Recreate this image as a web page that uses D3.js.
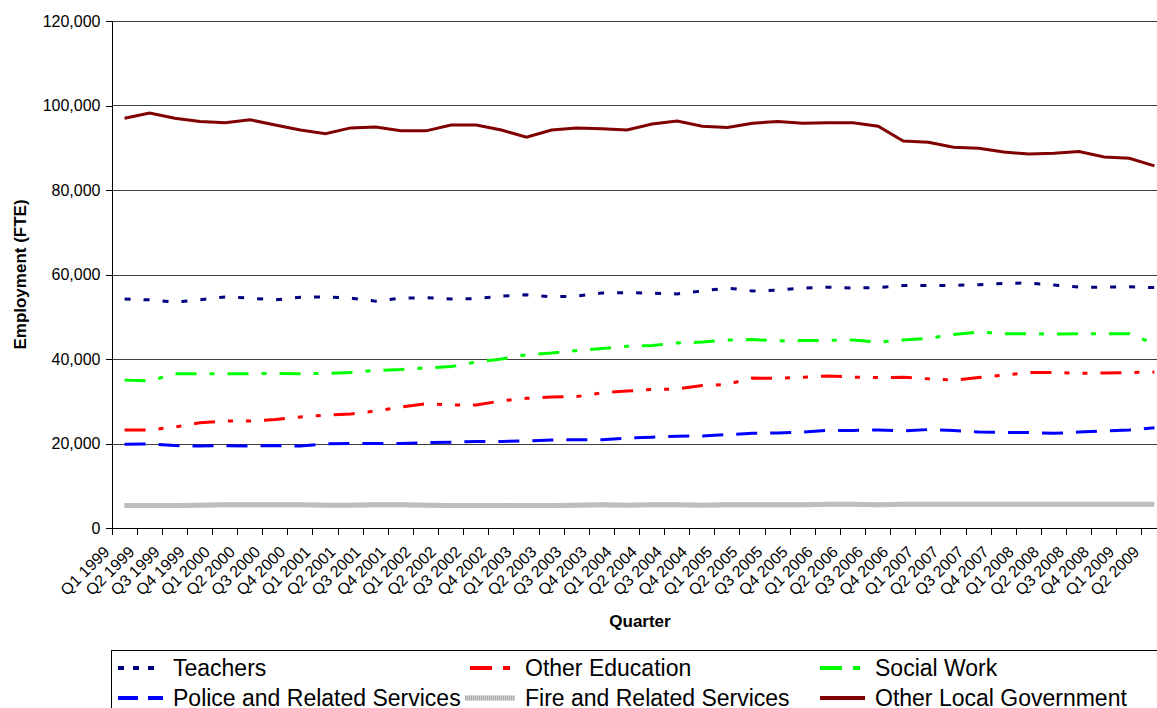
<!DOCTYPE html>
<head>
	<meta charset="utf-8">
	<style>
		body { margin: 0; background: #fff; }
		svg { display: block; font-family: "Liberation Sans", Arial, sans-serif; }
		.axis text { font-size: 16px; fill: #000; }
		.axis path, .axis line { fill: none; stroke: #000; shape-rendering: crispEdges; }
		.grid line { stroke: #404040; shape-rendering: crispEdges; }
		.series { fill: none; stroke-width: 3px; }
		.legend text { font-size: 23px; }
	</style>
	<title>Employment by quarter</title>
	<script src="https://d3js.org/d3.v7.min.js"></script>
</head>
<body>
	<div id="chart"></div>
	<script>
		var quarters = ["Q1 1999", "Q2 1999", "Q3 1999", "Q4 1999", "Q1 2000", "Q2 2000", "Q3 2000", "Q4 2000",
			"Q1 2001", "Q2 2001", "Q3 2001", "Q4 2001", "Q1 2002", "Q2 2002", "Q3 2002", "Q4 2002",
			"Q1 2003", "Q2 2003", "Q3 2003", "Q4 2003", "Q1 2004", "Q2 2004", "Q3 2004", "Q4 2004",
			"Q1 2005", "Q2 2005", "Q3 2005", "Q4 2005", "Q1 2006", "Q2 2006", "Q3 2006", "Q4 2006",
			"Q1 2007", "Q2 2007", "Q3 2007", "Q4 2007", "Q1 2008", "Q2 2008", "Q3 2008", "Q4 2008",
			"Q1 2009", "Q2 2009"];

		var teachers = [54200, 54000, 53500, 54000, 54700, 54400, 54000, 54600, 54700, 54400, 53700, 54400,
			54500, 54200, 54300, 54900, 55200, 54700, 54900, 55600, 55700, 55600, 55400, 56100,
			56800, 56100, 56300, 56800, 57000, 56800, 56900, 57400, 57400, 57400, 57600, 57900,
			58000, 57500, 57000, 57000, 57100, 56900];
		var otherEducation = [23200, 23200, 23900, 24900, 25300, 25300, 25700, 26300, 26700, 27000, 27700, 28600,
			29400, 29100, 29100, 30100, 30700, 31000, 31100, 32000, 32400, 32800, 32900, 33700,
			34000, 35500, 35400, 35700, 36000, 35700, 35600, 35700, 35300, 35000, 35600, 36200,
			36800, 36800, 36600, 36700, 36800, 36900];
		var socialWork = [35000, 34800, 36500, 36500, 36500, 36500, 36600, 36500, 36600, 36800, 37300, 37500,
			37900, 38200, 39300, 40000, 41000, 41400, 42000, 42500, 43000, 43200, 43800, 44000,
			44500, 44600, 44300, 44400, 44400, 44500, 44000, 44500, 44900, 45800, 46400, 46000,
			46000, 45900, 46000, 46000, 46000, 43600];
		var police = [19800, 19900, 19500, 19400, 19500, 19400, 19500, 19400, 19900, 20000, 20000, 20000,
			20200, 20300, 20500, 20500, 20600, 20800, 20900, 20900, 21300, 21500, 21700, 21800,
			22100, 22400, 22500, 22700, 23100, 23100, 23200, 23000, 23300, 23100, 22700, 22600,
			22600, 22400, 22700, 23000, 23200, 23700];
		var fire = [5300, 5300, 5300, 5400, 5500, 5500, 5500, 5500, 5400, 5400, 5500, 5500,
			5400, 5300, 5300, 5300, 5300, 5300, 5400, 5500, 5400, 5500, 5500, 5400,
			5500, 5500, 5500, 5500, 5600, 5600, 5500, 5600, 5600, 5600, 5600, 5600,
			5600, 5600, 5600, 5600, 5600, 5600];
		var otherLocalGov = [97000, 98200, 97000, 96200, 95900, 96600, 95400, 94200, 93300, 94700, 94900, 94000,
			94000, 95400, 95400, 94200, 92500, 94200, 94700, 94500, 94200, 95600, 96300, 95100,
			94800, 95800, 96200, 95800, 95900, 95900, 95100, 91600, 91300, 90100, 89900, 89000,
			88500, 88700, 89100, 87800, 87500, 85700];

		var yTicks = [0, 20000, 40000, 60000, 80000, 100000, 120000];

		var series = [
			{ name: "Teachers", values: teachers, color: "#000080", dash: "6,13", legendDash: "6,9" },
			{ name: "Other Education", values: otherEducation, color: "#ff0000", dash: "21,13,5,13,5,13", legendDash: "22,11,7,11" },
			{ name: "Social Work", values: socialWork, color: "#00ff00", dash: "21,13,5,13", legendDash: "22,11,7,11" },
			{ name: "Police and Related Services", values: police, color: "#0000ff", dash: "21,13", legendDash: "20,10" },
			{ name: "Fire and Related Services", values: fire, color: "#c4c4c4", dash: null, textured: true },
			{ name: "Other Local Government", values: otherLocalGov, color: "#800000", dash: null }
		];

		var width = 1157, height = 708,
			plotLeft = 112, plotTop = 21, plotBottom = 528, plotRight = 1167;

		var svg = d3.select("#chart").append("svg")
			.attr("width", width)
			.attr("height", height);

		var x = d3.scaleBand().domain(quarters).range([plotLeft, plotRight]);
		var y = d3.scaleLinear().domain([0, 120000]).range([plotBottom, plotTop]);

		// gridlines
		svg.append("g")
			.attr("class", "grid")
			.selectAll("line")
			.data(yTicks.slice(1))
			.enter().append("line")
			.attr("x1", plotLeft).attr("x2", plotRight)
			.attr("y1", function (d) { return Math.round(y(d)) + 0.5; })
			.attr("y2", function (d) { return Math.round(y(d)) + 0.5; });

		var line = d3.line()
			.x(function (d, i) { return x(quarters[i]) + x.bandwidth() / 2; })
			.y(function (d) { return y(d); });

		series.forEach(function (s) {
			if (s.textured) {
				svg.append("path").datum(s.values).attr("class", "series")
					.attr("d", line).style("stroke", "#d4d4d4").style("stroke-width", "5px");
				svg.append("path").datum(s.values).attr("class", "series")
					.attr("d", line).style("stroke", "#a8a8a8").style("stroke-width", "5px")
					.style("stroke-dasharray", "1,1");
			} else {
				svg.append("path").datum(s.values).attr("class", "series")
					.attr("d", line).style("stroke", s.color)
					.style("stroke-dasharray", s.dash);
			}
		});

		// axes
		var yAxis = d3.axisLeft(y).tickValues(yTicks).tickSize(6).tickPadding(5)
			.tickFormat(d3.format(","));
		svg.append("g")
			.attr("class", "axis axis--y")
			.attr("transform", "translate(" + (plotLeft - 0.5) + ",0)")
			.call(yAxis);

		var xAxis = d3.axisBottom(x).tickSize(6).tickFormat("");
		var gx = svg.append("g")
			.attr("class", "axis axis--x")
			.attr("transform", "translate(0," + (plotBottom + 0.5) + ")")
			.call(xAxis);
		// ticks sit on category boundaries
		gx.selectAll(".tick line").attr("transform", "translate(" + (-x.bandwidth() / 2) + ",0)");
		gx.select(".domain").attr("d", "M" + plotLeft + ",0H" + plotRight);

		svg.append("g")
			.attr("class", "axis")
			.selectAll("text")
			.data(quarters)
			.enter().append("text")
			.attr("transform", function (d) {
				return "translate(" + (x(d) + x.bandwidth() / 2 - 18) + "," + (plotBottom + 21) + ") rotate(-45)";
			})
			.attr("dy", "0.35em")
			.style("text-anchor", "end")
			.text(function (d) { return d; });

		svg.append("text")
			.attr("x", 640).attr("y", 627)
			.style("text-anchor", "middle")
			.style("font-weight", "bold").style("font-size", "17px")
			.text("Quarter");

		svg.append("text")
			.attr("transform", "translate(26," + ((plotTop + plotBottom) / 2) + ") rotate(-90)")
			.style("text-anchor", "middle")
			.style("font-weight", "bold").style("font-size", "17px")
			.text("Employment (FTE)");

		// legend
		var legend = svg.append("g").attr("class", "legend");
		legend.append("rect")
			.attr("x", 111.5).attr("y", 650.5)
			.attr("width", 1080).attr("height", 80)
			.style("fill", "#fff").style("stroke", "#000");

		var colX = [118, 470, 820], rowY = [668, 698];
		series.forEach(function (s, i) {
			var lx = colX[i % 3], ly = rowY[Math.floor(i / 3)];
			if (s.textured) {
				legend.append("line").attr("x1", lx - 5).attr("x2", lx + 45).attr("y1", ly).attr("y2", ly)
					.style("stroke", "#d4d4d4").style("stroke-width", 5);
				legend.append("line").attr("x1", lx - 5).attr("x2", lx + 45).attr("y1", ly).attr("y2", ly)
					.style("stroke", "#a8a8a8").style("stroke-width", 5).style("stroke-dasharray", "1,1");
			} else {
				legend.append("line").attr("x1", lx).attr("x2", lx + 45).attr("y1", ly).attr("y2", ly)
					.style("stroke", s.color).style("stroke-width", 4)
					.style("stroke-dasharray", s.legendDash || null);
			}
			legend.append("text")
				.attr("x", lx + 55).attr("y", ly).attr("dy", "0.36em")
				.text(s.name);
		});
	</script>
</body>
